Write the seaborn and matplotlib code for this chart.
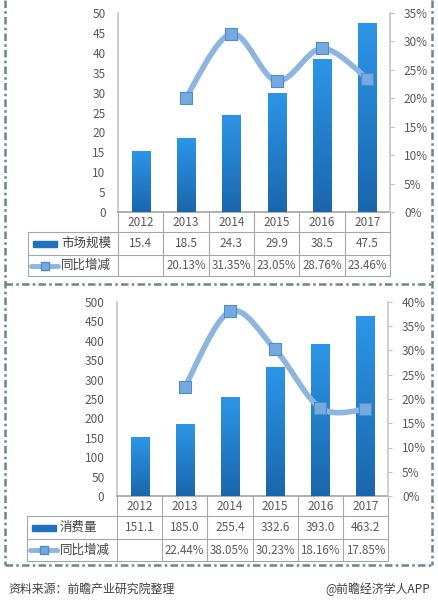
import numpy as np
import matplotlib
matplotlib.use("Agg")
import matplotlib.pyplot as plt
import seaborn as sns
from matplotlib.path import Path
from matplotlib.patches import PathPatch, Rectangle
from matplotlib.colors import LinearSegmentedColormap
from matplotlib.ticker import FuncFormatter, MultipleLocator

# data
years = ["2012", "2013", "2014", "2015", "2016", "2017"]
market_size = [15.4, 18.5, 24.3, 29.9, 38.5, 47.5]
market_growth = [np.nan, 20.13, 31.35, 23.05, 28.76, 23.46]
consumption = [151.1, 185.0, 255.4, 332.6, 393.0, 463.2]
consumption_growth = [np.nan, 22.44, 38.05, 30.23, 18.16, 17.85]
bar_label_top = "市场规模"
bar_label_bottom = "消费量"
line_label = "同比增减"
source_text = "资料来源：前瞻产业研究院整理"
brand_text = "@前瞻经济学人APP"

sns.set_theme(style="white")
plt.rcParams['font.family'] = ['Noto Sans CJK SC', 'DejaVu Sans']

W, H = 438, 607
fig = plt.figure(figsize=(W / 100, H / 100), dpi=100)

# overlay in pixel coords for table lines, borders, footer
ov = fig.add_axes([0, 0, 1, 1], zorder=0)
ov.set_xlim(0, W)
ov.set_ylim(H, 0)
ov.axis("off")

txt_col = "#595959"
grid_col = "#a6a6a6"
line_col = "#8cb5e0"
bar_cmap = LinearSegmentedColormap.from_list("bar", ["#1a66ad", "#2d96e8"])


def smooth_path(xs, ys):
    pts = np.column_stack([xs, ys])
    n = len(pts)
    verts = [pts[0]]
    codes = [Path.MOVETO]
    for i in range(n - 1):
        p0 = pts[i - 1] if i > 0 else pts[i]
        p1 = pts[i]
        p2 = pts[i + 1]
        p3 = pts[i + 2] if i + 2 < n else pts[i + 1]
        verts += [p1 + (p2 - p0) / 6, p2 - (p3 - p1) / 6, p2]
        codes += [Path.CURVE4] * 3
    return Path(verts, codes)


def panel(px, values, growth, ymax, ystep, rmax, bar_name, rows, tab_left):
    # px = (left, top, right, bottom) of plot area in pixels
    l, t, r, b = px
    ax = fig.add_axes([l / W, 1 - b / H, (r - l) / W, (b - t) / H], zorder=2)
    ax.set_facecolor("none")
    sns.barplot(x=list(range(len(years))), y=values, ax=ax, width=0.4,
                color="#2480d0", native_scale=True)
    for p in list(ax.patches):
        x0, y0, w, h = p.get_x(), p.get_y(), p.get_width(), p.get_height()
        im = ax.imshow(np.linspace(0, 1, 256).reshape(-1, 1), extent=[x0, x0 + w, y0, y0 + h],
                       origin="lower", cmap=bar_cmap, aspect="auto", zorder=3)
        im.set_clip_path(p)
    ax.set_xlim(-0.5, len(years) - 0.5)
    ax.set_ylim(0, ymax)
    ax.yaxis.set_major_locator(MultipleLocator(ystep))
    ax.set_xticks([])
    ax.set_xlabel("")
    ax.tick_params(axis="y", length=0, pad=9, labelsize=8.5, labelcolor=txt_col)
    for s in ["top", "right"]:
        ax.spines[s].set_visible(False)
    ax.spines["left"].set_color("#c8c8c8")
    ax.spines["bottom"].set_color(grid_col)

    ax2 = ax.twinx()
    ax2.set_zorder(3)
    ax2.set_ylim(0, rmax)
    ax2.yaxis.set_major_locator(MultipleLocator(5))
    ax2.yaxis.set_major_formatter(FuncFormatter(lambda v, _: f"{v:.0f}%"))
    ax2.tick_params(axis="y", length=3, width=0.8, color="#bfbfbf", pad=7,
                    labelsize=8.5, labelcolor=txt_col, right=True)
    for s in ["top", "left", "bottom"]:
        ax2.spines[s].set_visible(False)
    ax2.spines["right"].set_color("#c8c8c8")
    ax2.grid(False)
    gx = [i for i, g in enumerate(growth) if not np.isnan(g)]
    gy = [growth[i] for i in gx]
    ax2.add_patch(PathPatch(smooth_path(gx, gy), fill=False, edgecolor=line_col,
                            lw=4, capstyle="round", joinstyle="round", zorder=4))
    sns.scatterplot(x=gx, y=gy, ax=ax2, marker="s", s=80, color="#74aae0",
                    edgecolor="#4f8cc9", linewidth=0.8, zorder=5)
    ax2.set_xlim(-0.5, len(years) - 0.5)

    # table under the chart
    y_year, y_val, y_gr, y_end = rows
    cw = (r - l) / len(years)
    xs = [l + i * cw for i in range(len(years) + 1)]
    for x in xs:
        ov.plot([x, x], [y_year, y_end], color=grid_col, lw=0.8)
    ov.plot([tab_left, tab_left], [y_val, y_end], color=grid_col, lw=0.8)
    for y in [y_val, y_gr, y_end]:
        ov.plot([tab_left, r], [y, y], color=grid_col, lw=0.8)
    for i, yr in enumerate(years):
        cx = l + (i + 0.5) * cw
        ov.text(cx, (y_year + y_val) / 2, yr, ha="center", va="center", fontsize=8.5, color=txt_col)
        ov.text(cx, (y_val + y_gr) / 2, f"{values[i]:.1f}", ha="center", va="center",
                fontsize=8.5, color=txt_col)
        if not np.isnan(growth[i]):
            ov.text(cx, (y_gr + y_end) / 2, f"{growth[i]:.2f}%", ha="center", va="center",
                    fontsize=8.3, color=txt_col)
    # legend keys
    ym = (y_val + y_gr) / 2
    ov.add_patch(Rectangle((tab_left + 5, ym - 3), 24, 6, color="#1f72bd", zorder=3))
    ov.text(tab_left + 33, ym, bar_name, ha="left", va="center", fontsize=9, color="#404040")
    ym = (y_gr + y_end) / 2
    ov.plot([tab_left + 3, tab_left + 30], [ym, ym], color=line_col, lw=3.5,
            solid_capstyle="round", zorder=3)
    ov.plot([tab_left + 16.5], [ym], marker="s", ms=6, color="#74aae0",
            markeredgecolor="#4f8cc9", zorder=4)
    ov.text(tab_left + 33, ym, line_label, ha="left", va="center", fontsize=9, color="#404040")


panel((118, 13, 390, 212), market_size, market_growth, 50, 5, 35, bar_label_top,
      (212, 232, 255, 276), 28)
panel((117, 302, 388, 496), consumption, consumption_growth, 500, 50, 40, bar_label_bottom,
      (496, 516, 539, 561), 27)

# dashed frames
dash = dict(color="#6b8494", lw=1.8, linestyle=(0, (3, 1.3, 1, 1.3)))
ov.plot([5, 5], [0, 565], **dash)
ov.plot([432, 432], [0, 565], **dash)
ov.plot([5, 432], [284, 284], **dash)
ov.plot([5, 432], [565, 565], **dash)

ov.text(8, 589, source_text, ha="left", va="center", fontsize=8.6, color="#404040")
ov.text(430, 589, brand_text, ha="right", va="center", fontsize=8.6, color="#404040")

fig.savefig("out.png", dpi=100)
